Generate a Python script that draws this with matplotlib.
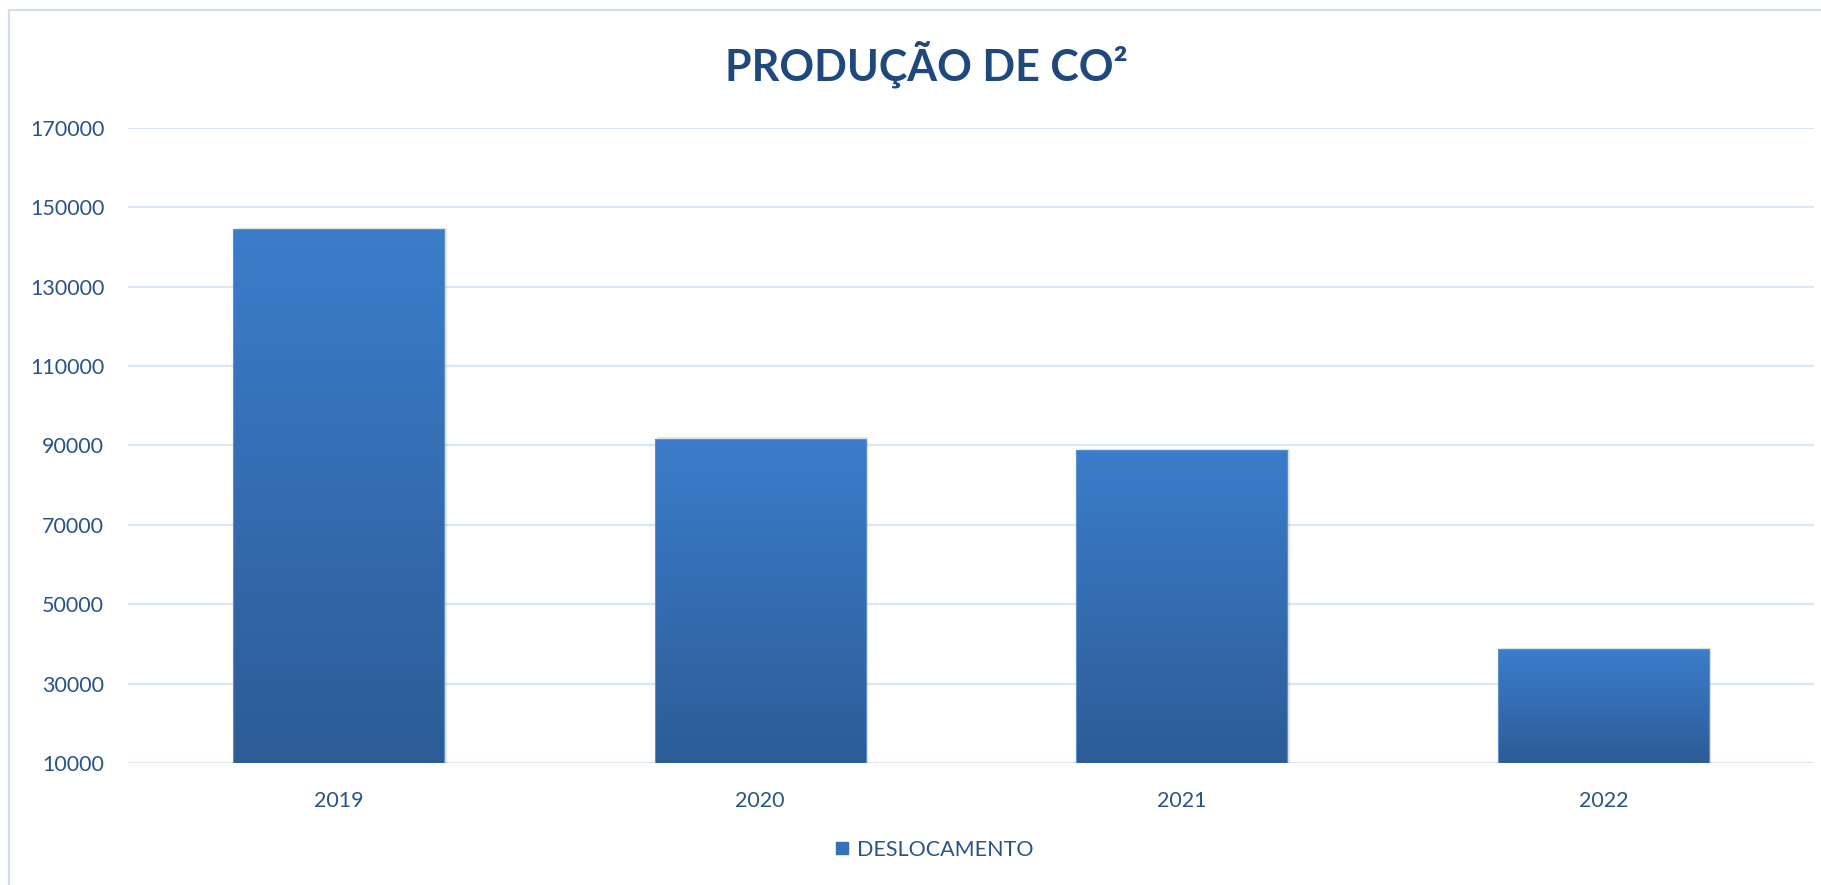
import numpy as np
import matplotlib
matplotlib.use("Agg")
import matplotlib.pyplot as plt
from matplotlib.colors import LinearSegmentedColormap
from matplotlib.patches import Rectangle
from matplotlib.lines import Line2D

years = ["2019", "2020", "2021", "2022"]
deslocamento = [144400, 91700, 88900, 38700]
y_ticks = [10000, 30000, 50000, 70000, 90000, 110000, 130000, 150000, 170000]

title_color = "#1f497d"
text_color = "#2b5486"
grid_color = "#dce6f2"
bar_top = "#3b7dcb"
bar_bottom = "#2d5c96"

plt.rcParams["font.family"] = ["Lato", "DejaVu Sans"]

fig = plt.figure(figsize=(18.21, 8.85), dpi=100)
ax = fig.add_axes([0.0702, 0.1379, 0.9260, 0.7177])

x = np.arange(len(years))
width = 0.5
cmap = LinearSegmentedColormap.from_list("bar", [bar_bottom, bar_top])
grad = np.linspace(0, 1, 256).reshape(-1, 1)

ymin, ymax = 10000, 170000
for xi, v in zip(x, deslocamento):
    # soft shadow
    sh = Rectangle((xi - width / 2 + 0.006, ymin), width, v - ymin + 300,
                   facecolor="#000000", alpha=0.10, edgecolor="none", zorder=2)
    ax.add_patch(sh)
    rect = Rectangle((xi - width / 2, ymin), width, v - ymin,
                     facecolor="none", edgecolor="#5b8fd0", linewidth=0.8, zorder=4)
    ax.add_patch(rect)
    im = ax.imshow(grad, cmap=cmap, origin="lower", aspect="auto",
                   extent=(xi - width / 2, xi + width / 2, ymin, v), zorder=3)
    im.set_clip_path(rect)

ax.set_xlim(-0.5, 3.5)
ax.set_ylim(ymin, ymax)
ax.set_yticks(y_ticks)
ax.set_yticklabels([str(t) for t in y_ticks])
ax.set_xticks(x)
ax.set_xticklabels(years)
ax.yaxis.grid(True, color=grid_color, linewidth=1.6, zorder=0)
ax.set_axisbelow(True)
for s in ax.spines.values():
    s.set_visible(False)
ax.tick_params(axis="both", length=0, labelsize=15.5, colors=text_color)
ax.tick_params(axis="y", pad=17)
ax.tick_params(axis="x", pad=20)

# outer chart border (left and top visible)
fig.patches.append(Rectangle((9 / 1821, -0.2), 1.2, 1.2 - 10 / 885,
                             transform=fig.transFigure, fill=False,
                             edgecolor="#d3deec", linewidth=1.6))

fig.text(0.509, 1 - 64 / 885, "PRODUÇÃO DE CO²", ha="center", va="center",
         fontsize=31, fontweight="bold", color=title_color)

handle = Line2D([], [], marker="s", linestyle="none", markersize=9,
                markerfacecolor="#3570b8", markeredgecolor="#3570b8")
fig.legend([handle], ["DESLOCAMENTO"], loc="center",
           bbox_to_anchor=(933 / 1821, 1 - 850 / 885), frameon=False,
           fontsize=15.5, labelcolor=text_color, handletextpad=0.3,
           handlelength=0.8)

fig.savefig("out.png", dpi=100)
